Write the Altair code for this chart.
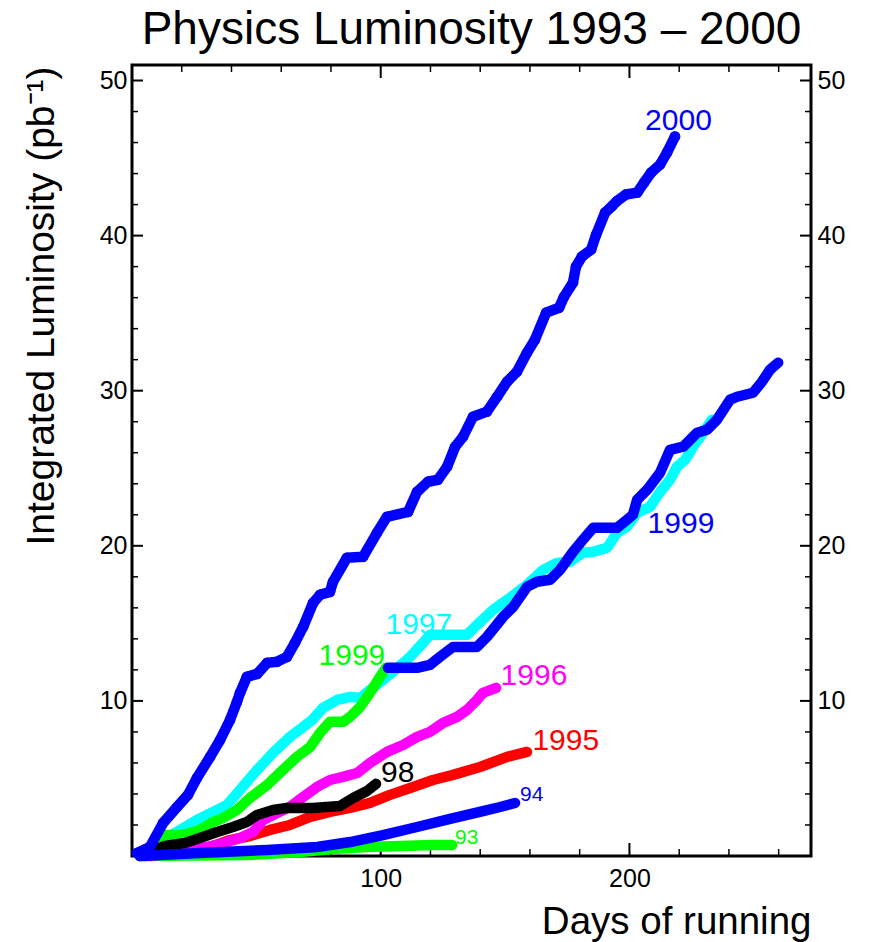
import altair as alt
import pandas as pd

FONT = "Liberation Sans"
BLUE = "#0000ff"; CYAN = "#00ffff"; GREEN = "#00ff00"
MAGENTA = "#ff00ff"; RED = "#ff0000"; BLACK = "#000000"

# ---- data (days, integrated luminosity pb^-1) ----
d_1993 = [3.2, 47.4, 67.5, 80.8, 94.5, 107.8, 121.0, 128.7]
L_1993 = [0.0, 0.06, 0.26, 0.45, 0.58, 0.65, 0.71, 0.71]

d_1995 = [5.2, 15.3, 31.4, 39.4, 47.4, 55.5, 63.5, 71.6, 79.6, 87.7, 95.7, 103.7, 113.0, 121.0, 129.1, 139.9, 150.8, 158.8]
L_1995 = [0.0, 0.13, 0.58, 1.03, 1.29, 1.68, 2.0, 2.52, 2.84, 3.1, 3.42, 3.94, 4.45, 4.9, 5.23, 5.74, 6.39, 6.71]

d_1996 = [7.2, 15.3, 26.1, 34.2, 43.4, 48.7, 52.7, 58.3, 63.5, 68.8, 74.4, 79.6, 84.8, 90.5, 95.7, 102.5, 109.0, 114.6, 119.8, 125.1, 130.7, 134.7, 138.7, 141.1, 146.4]
L_1996 = [0.0, 0.19, 0.45, 0.71, 1.16, 1.55, 2.32, 2.77, 3.16, 3.81, 4.45, 4.9, 5.1, 5.35, 6.0, 6.71, 7.16, 7.68, 8.0, 8.58, 8.97, 9.42, 10.06, 10.52, 10.84]

d_1997 = [5.2, 12.5, 19.3, 26.1, 32.6, 38.2, 43.4, 50.3, 56.7, 63.5, 68.8, 72.4, 76.8, 82.4, 87.7, 91.7, 95.7, 100.9, 104.9, 111.8, 117.0, 119.8, 134.7, 138.7, 145.2, 152.0, 158.8, 165.3, 170.9, 176.1, 181.3, 185.4, 191.0, 195.0, 199.0, 203.1, 208.3, 212.3, 216.3, 219.1, 222.4, 225.6, 229.6, 233.2]
L_1997 = [0.06, 1.03, 1.68, 2.32, 2.84, 3.29, 4.26, 5.55, 6.65, 7.68, 8.32, 8.77, 9.55, 10.06, 10.26, 10.19, 10.71, 11.35, 11.87, 12.84, 13.74, 14.26, 14.26, 14.9, 15.87, 16.65, 17.48, 18.45, 18.9, 18.97, 19.55, 19.61, 19.87, 20.84, 21.23, 22.13, 22.52, 23.48, 24.26, 25.1, 25.55, 26.39, 27.29, 28.13]

d_1998 = [3.2, 7.2, 13.3, 21.3, 27.3, 34.2, 40.6, 46.2, 50.3, 56.7, 62.3, 72.8, 83.6, 88.9, 94.5, 98.1]
L_1998 = [0.0, 0.26, 0.65, 0.84, 1.16, 1.55, 1.87, 2.19, 2.65, 2.97, 3.1, 3.1, 3.23, 3.74, 4.19, 4.65]

d_1994 = [3.2, 27.3, 54.3, 74.4, 87.7, 100.9, 114.6, 127.9, 141.1, 148.0, 154.0]
L_1994 = [0.0, 0.19, 0.39, 0.58, 0.9, 1.35, 1.87, 2.39, 2.9, 3.16, 3.42]

d_1999a = [5.2, 7.2, 12.5, 19.3, 23.3, 27.3, 32.6, 36.6, 42.2, 47.4, 54.3, 60.7, 66.3, 71.6, 75.6, 79.6, 84.8, 87.7, 91.7, 95.7, 99.7, 102.1]
L_1999a = [0.06, 0.26, 1.35, 1.35, 1.48, 1.68, 2.19, 2.45, 2.97, 3.74, 4.58, 5.55, 6.39, 7.03, 7.94, 8.65, 8.65, 8.97, 9.61, 10.52, 11.55, 12.13]

d_1999b = [102.9, 114.6, 119.8, 123.8, 129.1, 138.7, 142.7, 149.2, 153.2, 158.8, 162.8, 168.1, 172.1, 177.3, 181.3, 185.4, 195.0, 199.0, 201.4, 203.1, 207.1, 212.3, 216.3, 221.6, 227.2, 231.2, 235.2, 240.5, 243.3, 249.7, 253.3, 256.5, 259.8]
L_1999b = [12.13, 12.13, 12.32, 12.84, 13.48, 13.48, 14.13, 15.42, 16.06, 17.35, 17.68, 17.81, 18.45, 19.61, 20.39, 21.16, 21.16, 21.68, 22.0, 22.97, 23.61, 24.71, 26.19, 26.39, 27.29, 27.48, 28.13, 29.42, 29.61, 29.87, 30.58, 31.35, 31.81]

d_2000 = [2.0, 7.2, 12.5, 18.1, 22.5, 26.1, 31.4, 35.4, 39.4, 42.2, 43.4, 46.2, 50.3, 54.3, 58.3, 62.3, 65.5, 68.8, 72.8, 75.6, 79.6, 80.8, 86.4, 92.9, 98.5, 102.5, 111.0, 114.6, 119.0, 123.0, 126.7, 129.9, 133.1, 137.1, 142.7, 146.8, 150.8, 154.8, 158.8, 162.0, 166.5, 171.7, 173.7, 177.3, 178.5, 180.9, 184.6, 186.6, 190.2, 193.0, 195.0, 198.6, 203.1, 205.9, 208.7, 212.3, 215.1, 218.3]
L_2000 = [0.19, 0.58, 2.13, 3.16, 3.94, 5.03, 6.39, 7.48, 8.77, 9.94, 10.5, 11.55, 11.74, 12.45, 12.52, 12.84, 13.74, 14.77, 16.32, 16.84, 17.03, 17.68, 19.23, 19.29, 20.84, 21.87, 22.19, 23.48, 24.13, 24.26, 25.1, 26.39, 27.03, 28.32, 28.65, 29.61, 30.58, 31.23, 32.45, 33.29, 35.03, 35.35, 36.06, 36.97, 38.0, 38.65, 39.1, 40.06, 41.48, 41.9, 42.23, 42.65, 42.77, 43.42, 44.06, 44.58, 45.35, 46.39]

# drawing order bottom -> top
series = [
    ("93", d_1993, L_1993, GREEN),
    ("95", d_1995, L_1995, RED),
    ("96", d_1996, L_1996, MAGENTA),
    ("97", d_1997, L_1997, CYAN),
    ("99a", d_1999a, L_1999a, GREEN),
    ("98", d_1998, L_1998, BLACK),
    ("94", d_1994, L_1994, BLUE),
    ("99b", d_1999b, L_1999b, BLUE),
    ("2000", d_2000, L_2000, BLUE),
]

label_text = ["2000", "1999", "1997", "1999", "1996", "1995", "98", "94", "93"]
label_d = [206.3, 207.3, 101.9, 75.0, 148.2, 161.0, 100.1, 156.0, 129.9]
label_L = [46.8, 20.8, 14.3, 12.3, 11.0, 6.84, 4.77, 3.55, 0.77]
label_color = [BLUE, BLUE, CYAN, GREEN, MAGENTA, RED, BLACK, BLUE, GREEN]
label_size = [30, 30, 30, 30, 30, 30, 30, 21, 21]

x_major = [100, 200]
x_minor = [20, 40, 60, 80, 120, 140, 160, 180, 220, 240, 260]
y_major = [10, 20, 30, 40, 50]
y_minor = [2, 4, 6, 8, 12, 14, 16, 18, 22, 24, 26, 28, 32, 34, 36, 38, 42, 44, 46, 48]

W, H = 679, 791
xs = alt.Scale(domain=[0, 273], nice=False, zero=False)
ys = alt.Scale(domain=[0, 51], nice=False, zero=False)

layers = []

# tick marks pointing inward
def xticks(vals, length, sw):
    df = pd.DataFrame({"v": vals})
    bot = alt.Chart(df).mark_rule(color="black", strokeWidth=sw).encode(
        x=alt.X("v:Q", scale=xs, axis=None), y=alt.value(H), y2=alt.value(H - length))
    top = alt.Chart(df).mark_rule(color="black", strokeWidth=sw).encode(
        x=alt.X("v:Q", scale=xs, axis=None), y=alt.value(0), y2=alt.value(length))
    return [bot, top]

def yticks(vals, length, sw):
    df = pd.DataFrame({"v": vals})
    left = alt.Chart(df).mark_rule(color="black", strokeWidth=sw).encode(
        y=alt.Y("v:Q", scale=ys, axis=None), x=alt.value(0), x2=alt.value(length))
    right = alt.Chart(df).mark_rule(color="black", strokeWidth=sw).encode(
        y=alt.Y("v:Q", scale=ys, axis=None), x=alt.value(W), x2=alt.value(W - length))
    return [left, right]

layers += xticks(x_major, 13, 2)
layers += xticks(x_minor, 7, 1.5)
layers += yticks(y_major, 11, 2)
layers += yticks(y_minor, 6, 1.5)

# right axis carrier
right_axis = alt.Chart(pd.DataFrame({"v": y_major})).mark_rule(opacity=0).encode(
    y=alt.Y("v:Q", scale=ys, axis=alt.Axis(orient="right", values=y_major, title="",
            ticks=False, tickSize=0, domain=False, grid=False, labelFontSize=25,
            labelPadding=6, labelFont=FONT, labelColor="black")),
    x=alt.value(0), x2=alt.value(1))
layers.append(right_axis)

first = True
for name, dd, ll, col in series:
    df = pd.DataFrame({"d": dd, "L": ll})
    if first:
        xenc = alt.X("d:Q", scale=xs, axis=alt.Axis(values=x_major, title="Days of running",
                     ticks=False, tickSize=0, domain=False, grid=False, labelFontSize=25,
                     labelPadding=10, labelFont=FONT, labelColor="black",
                     titleFontSize=38.5, titleFont=FONT, titleFontWeight="normal", titleColor="black",
                     titleX=W, titleY=77, titleAlign="right", titleBaseline="alphabetic"))
        yenc = alt.Y("L:Q", scale=ys, axis=alt.Axis(values=y_major, orient="left",
                     title="Integrated Luminosity (pb⁻¹)",
                     ticks=False, tickSize=0, domain=False, grid=False, labelFontSize=25,
                     labelPadding=5, labelFont=FONT, labelColor="black",
                     titleFontSize=39, titleFont=FONT, titleFontWeight="normal", titleColor="black",
                     titleAngle=270, titleX=-79, titleY=1, titleAlign="right",
                     titleBaseline="alphabetic"))
        first = False
    else:
        xenc = alt.X("d:Q", scale=xs, axis=None)
        yenc = alt.Y("L:Q", scale=ys, axis=None)
    line = alt.Chart(df).mark_line(color=col, strokeWidth=10.5, strokeCap="round",
                                   strokeJoin="round").encode(x=xenc, y=yenc, order="d:Q")
    layers.append(line)
    if name == "2000":
        pts = alt.Chart(df).mark_circle(color=col, size=115, opacity=1).encode(
            x=alt.X("d:Q", scale=xs, axis=None), y=alt.Y("L:Q", scale=ys, axis=None))
        layers.append(pts)

labels = pd.DataFrame({"d": label_d, "L": label_L, "t": label_text,
                       "c": label_color, "s": label_size})
text = alt.Chart(labels).mark_text(align="left", baseline="alphabetic", font=FONT).encode(
    x=alt.X("d:Q", scale=xs, axis=None), y=alt.Y("L:Q", scale=ys, axis=None),
    text="t:N", color=alt.Color("c:N", scale=None), size=alt.Size("s:Q", scale=None))
layers.append(text)

chart = alt.layer(*layers).resolve_scale(y="independent").resolve_axis(
    x="independent", y="independent").properties(
    width=W, height=H,
    title=alt.TitleParams("Physics Luminosity 1993 – 2000", fontSize=46, font=FONT,
                          fontWeight="normal", color="black", anchor="middle",
                          baseline="alphabetic", offset=20, dy=46),
    autosize=alt.AutoSizeParams(type="none"),
    padding={"left": 132, "top": 65, "right": 59, "bottom": 86},
).configure_view(stroke="black", strokeWidth=3)

chart.save("out.html", embed_options={"renderer": "svg", "actions": False})
